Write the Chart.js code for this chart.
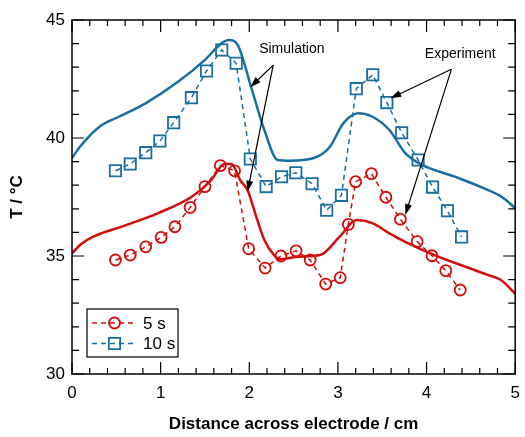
<!DOCTYPE html>
<html>
<head>
<meta charset="utf-8">
<script src="https://cdn.jsdelivr.net/npm/chart.js@4/dist/chart.umd.min.js"></script>
<style>
  html, body { margin: 0; padding: 0; background: #fff; }
  #wrap { width: 525px; height: 437px; position: relative; }
</style>
</head>
<body>
<div id="wrap"><canvas id="tempChart"></canvas></div>
<script>
// measured temperatures, 5 s and 10 s
const exp5X  = [0.49, 0.657, 0.832, 1.006, 1.161, 1.333, 1.5, 1.674, 1.834, 1.993, 2.179, 2.357, 2.528, 2.687, 2.862, 3.026, 3.118, 3.2, 3.378, 3.541, 3.705, 3.894, 4.061, 4.217, 4.38];
const exp5Y  = [34.83, 35.04, 35.39, 35.79, 36.24, 37.06, 37.94, 38.83, 38.61, 35.31, 34.49, 35.0, 35.22, 34.83, 33.81, 34.08, 36.34, 38.15, 38.49, 37.49, 36.56, 35.61, 35.01, 34.38, 33.56];
const exp10X = [0.49, 0.657, 0.832, 0.991, 1.147, 1.347, 1.518, 1.689, 1.852, 2.012, 2.19, 2.364, 2.525, 2.709, 2.873, 3.04, 3.207, 3.393, 3.552, 3.719, 3.905, 4.068, 4.235, 4.395];
const exp10Y = [38.61, 38.90, 39.38, 39.87, 40.65, 41.71, 42.84, 43.73, 43.17, 39.11, 37.94, 38.36, 38.53, 38.06, 36.94, 37.57, 42.09, 42.68, 41.50, 40.22, 39.07, 37.92, 36.92, 35.81];

// simulated profiles
const sim5X  = [0, 0.1, 0.24, 0.61, 0.98, 1.35, 1.57, 1.72, 1.8, 1.9, 1.98, 2.09, 2.17, 2.28, 2.35, 2.54, 2.8, 3.02, 3.21, 3.39, 3.58, 3.76, 4.13, 4.51, 4.69, 4.84, 5.0];
const sim5Y  = [35.11, 35.5, 35.82, 36.31, 36.83, 37.51, 38.22, 38.9, 38.9, 38.2, 37.8, 36.53, 35.68, 35.04, 34.86, 34.97, 35.04, 35.82, 36.53, 36.39, 35.96, 35.6, 34.97, 34.45, 34.2, 33.98, 33.4];
const sim10X = [0, 0.09, 0.31, 0.53, 0.83, 1.2, 1.5, 1.685, 1.77, 1.87, 2.02, 2.17, 2.32, 2.46, 2.72, 2.91, 3.06, 3.23, 3.39, 3.58, 3.76, 3.95, 4.32, 4.69, 4.85, 5.0];
const sim10Y = [39.15, 39.63, 40.48, 40.9, 41.47, 42.39, 43.31, 44.01, 44.15, 43.94, 42.17, 40.34, 39.07, 39.04, 39.14, 39.63, 40.62, 41.05, 40.9, 40.34, 39.36, 38.86, 38.36, 37.8, 37.5, 37.03];

const seriesLabels = ['5 s', '10 s'];
const RED = '#d20c0c';
const BLUE = '#1b6ea1';
const FONT = '"Liberation Sans", Arial, sans-serif';

const pts = (xs, ys) => xs.map((x, i) => ({ x: x, y: ys[i] }));

// inward ticks, frame, arrows and the inset legend
const framePlugin = {
  id: 'frame',
  afterDraw(chart) {
    const { ctx, chartArea: a, scales: { x, y } } = chart;
    ctx.save();
    ctx.strokeStyle = '#000';
    ctx.lineWidth = 1.5;
    ctx.strokeRect(a.left, a.top, a.right - a.left, a.bottom - a.top);

    ctx.lineWidth = 1.2;
    ctx.beginPath();
    for (let v = 0; v <= 25; v++) {
      const px = x.getPixelForValue(v * 0.2);
      const len = v % 5 === 0 ? 12 : 6;
      ctx.moveTo(px, a.bottom); ctx.lineTo(px, a.bottom - len);
      ctx.moveTo(px, a.top); ctx.lineTo(px, a.top + len);
    }
    for (let v = 30; v <= 45; v++) {
      const py = y.getPixelForValue(v);
      const len = v % 5 === 0 ? 12 : 7;
      ctx.moveTo(a.left, py); ctx.lineTo(a.left + len, py);
      ctx.moveTo(a.right, py); ctx.lineTo(a.right - len, py);
    }
    ctx.stroke();

    // annotations
    const arrow = (x0, y0, x1, y1) => {
      const sx = x.getPixelForValue(x0), sy = y.getPixelForValue(y0);
      const ex = x.getPixelForValue(x1), ey = y.getPixelForValue(y1);
      const ang = Math.atan2(ey - sy, ex - sx);
      ctx.lineWidth = 1.2;
      ctx.beginPath();
      ctx.moveTo(sx, sy); ctx.lineTo(ex - 8 * Math.cos(ang), ey - 8 * Math.sin(ang));
      ctx.stroke();
      ctx.beginPath();
      ctx.moveTo(ex, ey);
      ctx.lineTo(ex - 11 * Math.cos(ang) + 3.5 * Math.sin(ang), ey - 11 * Math.sin(ang) - 3.5 * Math.cos(ang));
      ctx.lineTo(ex - 11 * Math.cos(ang) - 3.5 * Math.sin(ang), ey - 11 * Math.sin(ang) + 3.5 * Math.cos(ang));
      ctx.closePath();
      ctx.fill();
    };
    ctx.fillStyle = '#000';
    ctx.font = '14px ' + FONT;
    ctx.textAlign = 'center';
    ctx.textBaseline = 'middle';
    ctx.fillText('Simulation', x.getPixelForValue(2.48), y.getPixelForValue(43.77));
    ctx.fillText('Experiment', x.getPixelForValue(4.38), y.getPixelForValue(43.56));
    arrow(2.27, 43.09, 2.01, 42.15);
    arrow(2.27, 43.09, 1.98, 37.72);
    arrow(4.28, 42.91, 3.59, 41.68);
    arrow(4.28, 42.91, 3.76, 36.74);

    // legend box
    const lx = 87, ly = 309, lw = 91, lh = 48;
    ctx.fillStyle = '#fff';
    ctx.fillRect(lx, ly, lw, lh);
    ctx.lineWidth = 1.2;
    ctx.strokeRect(lx, ly, lw, lh);
    [chart.data.datasets[2], chart.data.datasets[3]].forEach((ds, i) => {
      const cy = ly + 14 + i * 20.5;
      ctx.strokeStyle = ds.borderColor;
      ctx.lineWidth = 1.5;
      ctx.setLineDash(ds.borderDash);
      ctx.beginPath();
      ctx.moveTo(lx + 5, cy); ctx.lineTo(lx + 50, cy);
      ctx.stroke();
      ctx.setLineDash([]);
      ctx.lineWidth = ds.pointBorderWidth;
      ctx.fillStyle = 'rgba(0,0,0,0)';
      Chart.helpers.drawPoint(ctx, {
        pointStyle: ds.pointStyle, radius: ds.pointRadius, rotation: 0, borderWidth: ds.pointBorderWidth
      }, lx + 27.5, cy);
      ctx.fillStyle = '#000';
      ctx.font = '17px ' + FONT;
      ctx.textAlign = 'left';
      ctx.fillText(ds.label, lx + 56, cy + 1);
    });
    ctx.restore();
  }
};

new Chart(document.getElementById('tempChart'), {
  type: 'line',
  data: {
    datasets: [
      {
        label: 'sim 10 s', data: pts(sim10X, sim10Y),
        borderColor: BLUE, borderWidth: 2.5, pointRadius: 0,
        cubicInterpolationMode: 'monotone'
      },
      {
        label: 'sim 5 s', data: pts(sim5X, sim5Y),
        borderColor: RED, borderWidth: 2.5, pointRadius: 0,
        cubicInterpolationMode: 'monotone'
      },
      {
        label: seriesLabels[0], data: pts(exp5X, exp5Y),
        borderColor: RED, borderWidth: 1.5, borderDash: [5, 4],
        pointStyle: 'circle', pointRadius: 5.5, pointBorderWidth: 1.8,
        pointBorderColor: RED, pointBackgroundColor: 'rgba(0,0,0,0)', tension: 0
      },
      {
        label: seriesLabels[1], data: pts(exp10X, exp10Y),
        borderColor: BLUE, borderWidth: 1.5, borderDash: [5, 4],
        pointStyle: 'rect', pointRadius: 8, pointBorderWidth: 1.8,
        pointBorderColor: BLUE, pointBackgroundColor: 'rgba(0,0,0,0)', tension: 0
      }
    ]
  },
  options: {
    responsive: true,
    maintainAspectRatio: false,
    animation: false,
    layout: { padding: { top: 20, right: 4, left: 0, bottom: 0 } },
    plugins: { legend: { display: false }, tooltip: { enabled: false } },
    scales: {
      x: {
        type: 'linear', min: 0, max: 5,
        grid: { display: false, drawTicks: false },
        border: { display: false },
        ticks: { stepSize: 1, padding: 9, color: '#000', font: { family: FONT, size: 17 } },
        title: {
          display: true, text: 'Distance across electrode / cm', color: '#000',
          font: { family: FONT, size: 17, weight: 'bold' }, padding: { top: 0, bottom: 2 }
        },
        afterFit(s) { s.height = 63; s.paddingLeft = 0; s.paddingRight = 0; }
      },
      y: {
        min: 30, max: 45,
        grid: { display: false, drawTicks: false },
        border: { display: false },
        ticks: { stepSize: 5, padding: 7, color: '#000', font: { family: FONT, size: 17 } },
        title: {
          display: true, text: 'T / °C', color: '#000',
          font: { family: FONT, size: 17, weight: 'bold' }, padding: { top: 7, bottom: 0 }
        },
        afterFit(s) { s.width = 72; s.paddingTop = 0; s.paddingBottom = 0; }
      }
    }
  },
  plugins: [framePlugin]
});
</script>
</body>
</html>
